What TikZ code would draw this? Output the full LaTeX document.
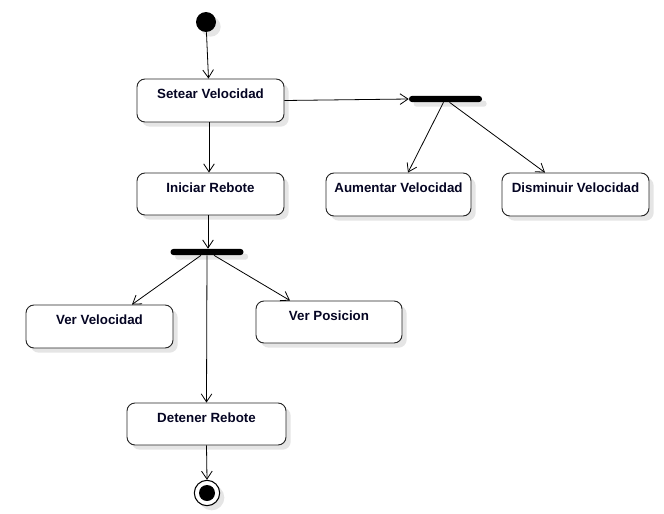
\documentclass[tikz,border=0pt]{standalone}
\usepackage{fontspec}
\setmainfont{Liberation Sans}
\usetikzlibrary{arrows.meta,shadows,calc}
\definecolor{txtnavy}{RGB}{5,5,35}
\tikzset{
  shad/.style={drop shadow={shadow xshift=3.5pt,shadow yshift=-3.5pt,fill=black!10,opacity=1}},
  actbox/.style={draw=black!85,line width=0.7pt,fill=white,rounded corners=6pt,shad,
    inner xsep=0pt,inner ysep=0pt,text height=14.25pt,
    font=\fontsize{10}{12}\selectfont\bfseries,text=txtnavy,align=center},
  hbox/.style={actbox,text depth=18pt},
  lbox/.style={actbox,text depth=17.25pt},
  forkbar/.style={fill=black,draw=none,rounded corners=2.2pt,minimum width=54.75pt,
    minimum height=4.6pt,inner sep=0pt,shad},
  startnode/.style={circle,fill=black,minimum size=15pt,inner sep=0pt,shad},
  endnode/.style={circle,draw=black,line width=0.8pt,fill=white,minimum size=19pt,inner sep=0pt,shad},
  flow/.style={line width=0.6pt,-{Straight Barb[length=6pt,width=8pt,line width=0.6pt]}}
}
\begin{document}
\begin{tikzpicture}[x=0.75pt,y=-0.75pt]
\useasboundingbox (0,0) rectangle (664,514);
\node[startnode] (init) at (206,22) {};
\node[hbox,minimum width=110.25pt] (setear) at (210.5,100.5) {Setear Velocidad};
\node[lbox,minimum width=110.25pt] (iniciar) at (210.5,194) {Iniciar Rebote};
\node[forkbar] (bar2) at (445.5,99) {};
\node[forkbar] (bar1) at (207,252) {};
\node[hbox,minimum width=108.75pt] (aumentar) at (398.5,194.5) {Aumentar Velocidad};
\node[hbox,minimum width=110.25pt] (disminuir) at (575.5,194.5) {Disminuir Velocidad};
\node[hbox,minimum width=110.25pt] (vervel) at (99.5,326.5) {Ver Velocidad};
\node[lbox,minimum width=109.5pt] (verpos) at (329,322) {Ver Posicion};
\node[lbox,minimum width=119.25pt] (detener) at (206.5,424) {Detener Rebote};
\node[endnode] (fin) at (207,493) {};
\fill[black] (fin) circle (6pt);

\draw[flow] (init) -- ($(setear.north)+(-2,0)$);
\draw[flow] ($(setear.south)+(-1.5,0)$) -- ($(iniciar.north)+(-1.5,0)$);
\draw[flow] (setear.east) -- (bar2.west);
\draw[flow] ($(bar2.south)+(-2,0)$) -- ($(aumentar.north)+(9.5,0)$);
\draw[flow] ($(bar2.south)+(4,0)$) -- ($(disminuir.north)+(-30.5,0)$);
\draw[flow] ($(iniciar.south)+(-2.5,0)$) -- ($(bar1.north)+(1,0)$);
\draw[flow] ($(bar1.south)+(-6,0)$) -- ($(vervel.north)+(32.5,0)$);
\draw[flow] ($(bar1.south)+(7,0)$) -- ($(verpos.north)+(-39,0)$);
\draw[flow] (bar1.south) -- (detener.north);
\draw[flow] (detener.south) -- (fin.north);
\end{tikzpicture}
\end{document}
